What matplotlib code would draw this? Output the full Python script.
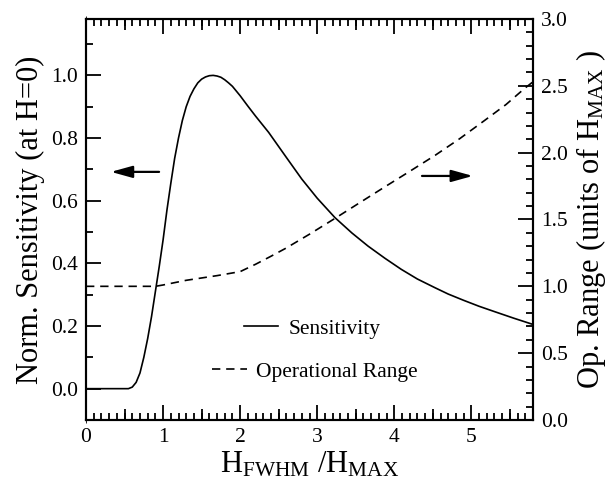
import numpy as np
import matplotlib
matplotlib.use("Agg")
import matplotlib.pyplot as plt
from matplotlib.ticker import MultipleLocator, NullFormatter

plt.rcParams['font.family'] = ['Liberation Serif', 'DejaVu Serif']
plt.rcParams['mathtext.fontset'] = 'custom'
plt.rcParams['mathtext.rm'] = 'Liberation Serif'
plt.rcParams['mathtext.it'] = 'Liberation Serif:italic'

# normalized sensitivity (left axis)
sens_x = [0, 0.3, 0.55, 0.6, 0.65, 0.7, 0.75, 0.8, 0.85, 0.9, 0.95, 1.0,
          1.05, 1.1, 1.15, 1.2, 1.25, 1.3, 1.35, 1.4, 1.45, 1.5, 1.55, 1.6, 1.65,
          1.7, 1.75, 1.8, 1.85, 1.9, 1.95, 2.0, 2.1, 2.2, 2.37, 2.6, 2.8, 3.0,
          3.23, 3.45, 3.66, 3.88, 4.09, 4.3, 4.53, 4.7, 4.9, 5.1, 5.3, 5.55, 5.8]
sens_y = [0, 0, 0, 0.005, 0.02, 0.05, 0.1, 0.16, 0.23, 0.31, 0.39, 0.475,
          0.57, 0.655, 0.735, 0.80, 0.856, 0.90, 0.933, 0.957, 0.976, 0.988, 0.995, 0.999, 1.0,
          0.998, 0.994, 0.986, 0.976, 0.965, 0.95, 0.935, 0.902, 0.87, 0.818, 0.738, 0.669, 0.608,
          0.546, 0.497, 0.455, 0.416, 0.381, 0.35, 0.322, 0.302, 0.282, 0.263, 0.246, 0.225, 0.205]

# operational range (right axis, units of H_MAX)
op_x = [0, 0.9, 1.0, 1.3, 1.7, 2.0, 2.2, 2.4, 2.59, 2.9, 3.23, 3.55, 3.88, 4.2,
        4.53, 4.85, 5.17, 5.45, 5.69, 5.8]
op_y = [1.0, 1.0, 1.01, 1.045, 1.08, 1.11, 1.165, 1.225, 1.284, 1.39, 1.508, 1.625, 1.745, 1.86,
        1.98, 2.105, 2.24, 2.36, 2.48, 2.53]

x_ticks = [0, 1, 2, 3, 4, 5]
left_ticks = [0.0, 0.2, 0.4, 0.6, 0.8, 1.0]
right_ticks = [0.0, 0.5, 1.0, 1.5, 2.0, 2.5, 3.0]

fs_tick = 15.5
fs_label = 22

fig, ax = plt.subplots(figsize=(6.11, 4.87), dpi=100)
fig.subplots_adjust(left=0.1408, right=0.8723, top=0.961, bottom=0.1376)
ax2 = ax.twinx()

l1, = ax.plot(sens_x, sens_y, color='k', lw=1.2, label='Sensitivity')
l2, = ax2.plot(op_x, op_y, color='k', lw=1.2, dashes=(5, 3.5), label='Operational Range')

ax.set_xlim(0, 5.8)
ax.set_ylim(-0.1, 1.18)
ax2.set_ylim(0, 3.0)

ax.set_xticks(x_ticks)
ax.xaxis.set_minor_locator(MultipleLocator(0.1))
ax.set_yticks(left_ticks)
ax.yaxis.set_minor_locator(MultipleLocator(0.1))
ax2.set_yticks(right_ticks)
ax2.yaxis.set_minor_locator(MultipleLocator(0.1))

ax.tick_params(which='both', direction='in', top=True, right=False, width=1.3,
               labelsize=fs_tick, pad=6)
ax.tick_params(which='major', length=11)
ax.tick_params(which='minor', length=5)
ax2.tick_params(which='both', direction='in', width=1.3, labelsize=fs_tick, pad=6)
ax2.tick_params(which='major', length=11)
ax2.tick_params(which='minor', length=5)

# medium ticks at the half units on bottom and top
for side in ['bottom', 'top']:
    sec = ax.secondary_xaxis(side)
    sec.set_xticks(np.arange(0.5, 5.8, 1.0))
    sec.xaxis.set_major_formatter(NullFormatter())
    sec.tick_params(which='major', direction='in', length=8, width=1.3)
    sec.xaxis.set_minor_locator(MultipleLocator(10))
    sec.spines[side].set_visible(False)

for a in (ax, ax2):
    for s in a.spines.values():
        s.set_linewidth(1.5)

ax.set_xlabel('H$_{\\mathrm{FWHM}}$ /H$_{\\mathrm{MAX}}$', fontsize=fs_label, labelpad=2)
ax.set_ylabel('Norm. Sensitivity (at H=0)', fontsize=fs_label)
ax2.set_ylabel('Op. Range (units of H$_{\\mathrm{MAX}}$ )', fontsize=fs_label)

arrow = dict(arrowstyle='-|>,head_length=0.65,head_width=0.18', color='k', lw=1.6,
             mutation_scale=20, shrinkA=0, shrinkB=0)
ax.annotate('', xy=(0.323, 0.692), xytext=(0.948, 0.692), arrowprops=arrow)
ax.annotate('', xy=(5.02, 0.679), xytext=(4.36, 0.679), arrowprops=arrow)

leg1 = ax2.legend(handles=[l1], loc='center left', bbox_to_anchor=(0.3535, 0.227),
                  frameon=False, borderpad=0, borderaxespad=0, handlelength=1.6,
                  handletextpad=0.45, fontsize=fs_tick)
ax2.add_artist(leg1)
ax2.legend(handles=[l2], loc='center left', bbox_to_anchor=(0.282, 0.12),
           frameon=False, borderpad=0, borderaxespad=0, handlelength=1.6,
           handletextpad=0.45, fontsize=fs_tick)

plt.savefig('out.png', dpi=100)
